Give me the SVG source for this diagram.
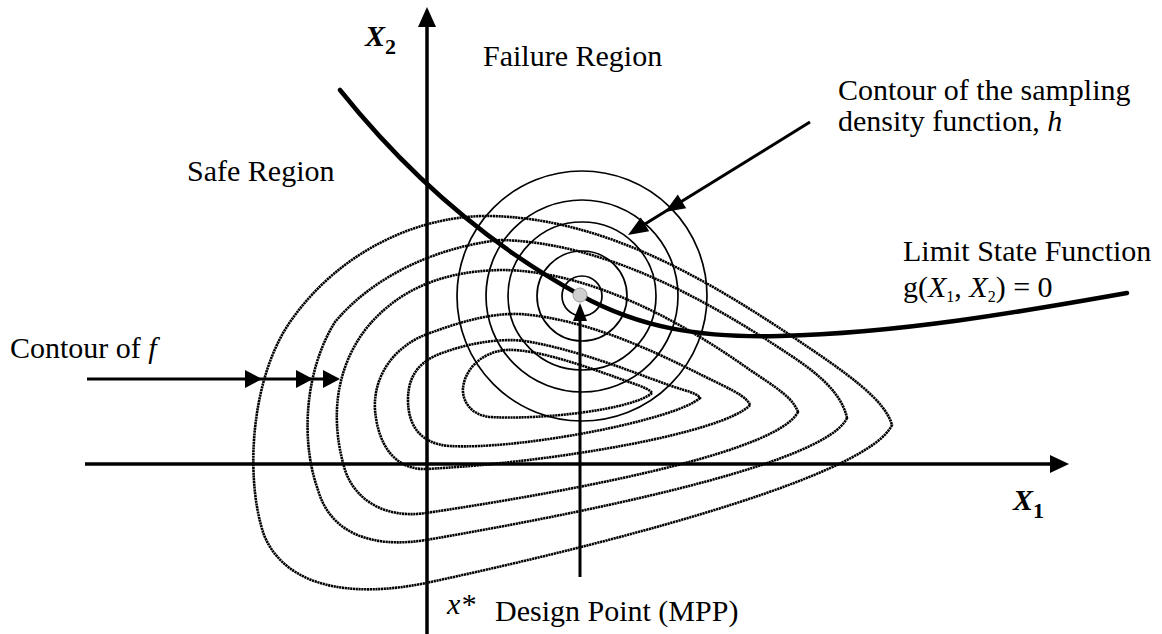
<svg xmlns="http://www.w3.org/2000/svg" width="1162" height="634" viewBox="0 0 1162 634">
<style>
.t{font-family:"Liberation Serif","Times New Roman",serif;font-size:30px;fill:#000}
.i{font-style:italic}
.b{font-weight:bold}
.ax{stroke:#000;stroke-width:3.5;fill:none}
.f{stroke:#000;stroke-width:2.6;fill:none;stroke-dasharray:2.2 0.6}
.h{stroke:#000;stroke-width:1.7;fill:none}
.ls{stroke:#000;stroke-width:4.5;fill:none;stroke-linecap:round}
.ar{stroke:#000;stroke-width:3;fill:none}
.hd{fill:#000}
</style>
<rect width="1162" height="634" fill="#fff"/>
<g id="axes">
<line x1="427" y1="634" x2="427" y2="24" class="ax"/>
<polygon points="427,7 418,27 436,27" class="hd"/>
<line x1="85" y1="464" x2="1052" y2="464" class="ax"/>
<polygon points="1069,464 1050,455 1050,473" class="hd"/>
</g>
<g id="contours-f">
<path class="f" d="M892,425 C870,472 650,535 426,583 C352,598 286,588 264,535 C245,480 250,380 290,322 C340,250 420,215 490,216 C600,218 700,275 790,335 C850,375 885,400 892,425 Z"/>
<path class="f" d="M847,418 C827,460 630,505 426,540 C370,549 330,532 318,490 C300,440 305,370 335,322 C370,280 430,248 500,240 C600,242 700,295 790,355 C822,376 842,395 847,418 Z"/>
<path class="f" d="M798,412 C778,450 600,487 426,513 C385,519 355,500 345,470 C330,420 335,370 365,330 C395,292 440,270 505,270 C590,272 680,320 750,370 C777,388 793,398 798,412 Z"/>
<path class="f" d="M750,405 C725,432 560,462 426,469 C395,470 378,445 375,410 C373,375 395,345 430,333 C460,322 490,313 520,314 C600,320 680,365 722,385 C738,393 747,398 750,405 Z"/>
<path class="f" d="M700,398 C675,420 520,450 450,446 C420,444 408,425 408,400 C408,375 420,360 445,352 C470,343 500,338 525,341 C590,352 650,380 684,390 C694,393 698,395 700,398 Z"/>
<path class="f" d="M652,393 C632,410 540,420 490,417 C470,415 462,400 463,388 C465,370 480,353 505,350 C540,348 600,372 632,383 C644,387 650,390 652,393 Z"/>
</g>
<g id="contours-h">
<circle class="h" cx="582" cy="296" r="20"/>
<circle class="h" cx="582" cy="296" r="45"/>
<circle class="h" cx="582" cy="296" r="74"/>
<circle class="h" cx="582" cy="296" r="96"/>
<circle class="h" cx="582" cy="296" r="125"/>
</g>
<g id="limit-state">
<path class="ls" d="M340,90 C400,165 480,240 580,295 C640,328 700,338 780,336 C900,333 1020,312 1127,293"/>
</g>
<g id="design-point">
<circle cx="580" cy="295" r="7" fill="#cfcfcf" stroke="#9a9a9a" stroke-width="1"/>
</g>
<g id="connectors">
<line class="ar" x1="87" y1="379" x2="330" y2="379"/>
<polygon class="hd" points="262,379 245,370 245,388"/>
<polygon class="hd" points="313,379 296,370 296,388"/>
<polygon class="hd" points="340,379 323,370 323,388"/>
<line class="ar" x1="810" y1="122" x2="645" y2="224"/>
<polygon class="hd" points="665,212 686.2,208.2 677.8,194.6"/>
<polygon class="hd" points="628,235 649.2,231.2 640.8,217.6"/>
<line class="ar" x1="580" y1="577" x2="580" y2="316"/>
<polygon class="hd" points="580,303 573,321 587,321"/>
</g>
<g id="labels">
<text class="t i b" x="365" y="46" font-size="32">X<tspan class="b" font-style="normal" font-size="22" dy="8">2</tspan></text>
<text class="t i b" x="1013" y="510" font-size="32">X<tspan class="b" font-style="normal" font-size="22" dy="8">1</tspan></text>
<text class="t" x="483" y="66">Failure Region</text>
<text class="t" x="187" y="181">Safe Region</text>
<text class="t" x="838" y="100">Contour of the sampling</text>
<text class="t" x="838" y="131">density function, <tspan class="i">h</tspan></text>
<text class="t" x="903" y="261">Limit State Function</text>
<text class="t" x="903" y="297" font-size="24">g(<tspan class="i">X</tspan><tspan font-size="16" dy="5">1</tspan><tspan dy="-5">, </tspan><tspan class="i">X</tspan><tspan font-size="16" dy="5">2</tspan><tspan dy="-5">) = 0</tspan></text>
<text class="t" x="10" y="358">Contour of <tspan class="i">f</tspan></text>
<text class="t i" x="447" y="614" font-size="28">x*</text>
<text class="t" x="495" y="621">Design Point (MPP)</text>
</g>
</svg>
